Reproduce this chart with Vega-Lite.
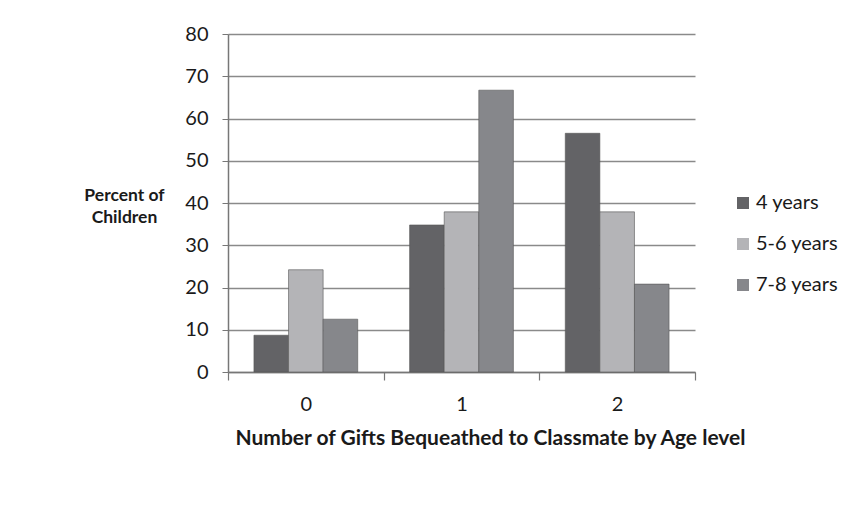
{
  "$schema": "https://vega.github.io/schema/vega-lite/v6.json",
  "autosize": {"type": "none"},
  "width": 467,
  "height": 338,
  "padding": {"left": 228, "top": 34, "right": 158, "bottom": 138},
  "background": "white",
  "config": {
    "font": "Lato",
    "view": {"stroke": null},
    "axis": {"labelFont": "Lato", "titleFont": "Lato", "labelColor": "#1a1a1a", "titleColor": "#1a1a1a"},
    "legend": {"labelFont": "Lato"}
  },
  "data": {
    "values": [
      {"gifts": "0", "age": "4 years", "percent": 8.7},
      {"gifts": "0", "age": "5-6 years", "percent": 24.2},
      {"gifts": "0", "age": "7-8 years", "percent": 12.5},
      {"gifts": "1", "age": "4 years", "percent": 34.8},
      {"gifts": "1", "age": "5-6 years", "percent": 37.9},
      {"gifts": "1", "age": "7-8 years", "percent": 66.7},
      {"gifts": "2", "age": "4 years", "percent": 56.5},
      {"gifts": "2", "age": "5-6 years", "percent": 37.9},
      {"gifts": "2", "age": "7-8 years", "percent": 20.8}
    ]
  },
  "mark": {"type": "bar", "stroke": "#555", "strokeWidth": 0.6},
  "encoding": {
    "x": {
      "field": "gifts",
      "type": "nominal",
      "sort": ["0", "1", "2"],
      "scale": {"paddingInner": 0, "paddingOuter": 0},
      "axis": {
        "title": "Number of Gifts Bequeathed to Classmate by Age level",
        "titleFontSize": 21,
        "titleFontWeight": "bold",
        "titleX": 262,
        "titleY": 66,
        "titleAlign": "center",
        "titleBaseline": "middle",
        "labelAngle": 0,
        "labelFontSize": 20,
        "labelPadding": 14,
        "tickBand": "extent",
        "tickSize": 8,
        "tickColor": "#777",
        "domainColor": "#777",
        "domainWidth": 1.5,
        "tickWidth": 1.2
      }
    },
    "xOffset": {
      "field": "age",
      "type": "nominal",
      "scale": {"paddingInner": 0, "paddingOuter": 0.75}
    },
    "y": {
      "field": "percent",
      "type": "quantitative",
      "scale": {"domain": [0, 80]},
      "axis": {
        "values": [0, 10, 20, 30, 40, 50, 60, 70, 80],
        "title": ["Percent of", "Children"],
        "titleAngle": 0,
        "titleFontSize": 17.5,
        "titleFontWeight": "bold",
        "titleAlign": "center",
        "titleBaseline": "top",
        "titleX": -104,
        "titleY": 152,
        "titleLineHeight": 22,
        "labelFontSize": 20,
        "labelPadding": 14,
        "tickSize": 6,
        "tickColor": "#777",
        "domainColor": "#777",
        "domainWidth": 1.5,
        "grid": true,
        "gridColor": "#8a8a8a",
        "gridWidth": 1.5
      }
    },
    "color": {
      "field": "age",
      "type": "nominal",
      "scale": {"domain": ["4 years", "5-6 years", "7-8 years"], "range": ["#636366", "#b4b4b7", "#86878b"]},
      "legend": {
        "title": null,
        "orient": "none",
        "legendX": 505,
        "legendY": 159,
        "symbolType": "square",
        "symbolSize": 144,
        "symbolStrokeWidth": 0,
        "labelFontSize": 20,
        "labelColor": "#1a1a1a",
        "rowPadding": 21,
        "labelOffset": 3
      }
    }
  }
}
